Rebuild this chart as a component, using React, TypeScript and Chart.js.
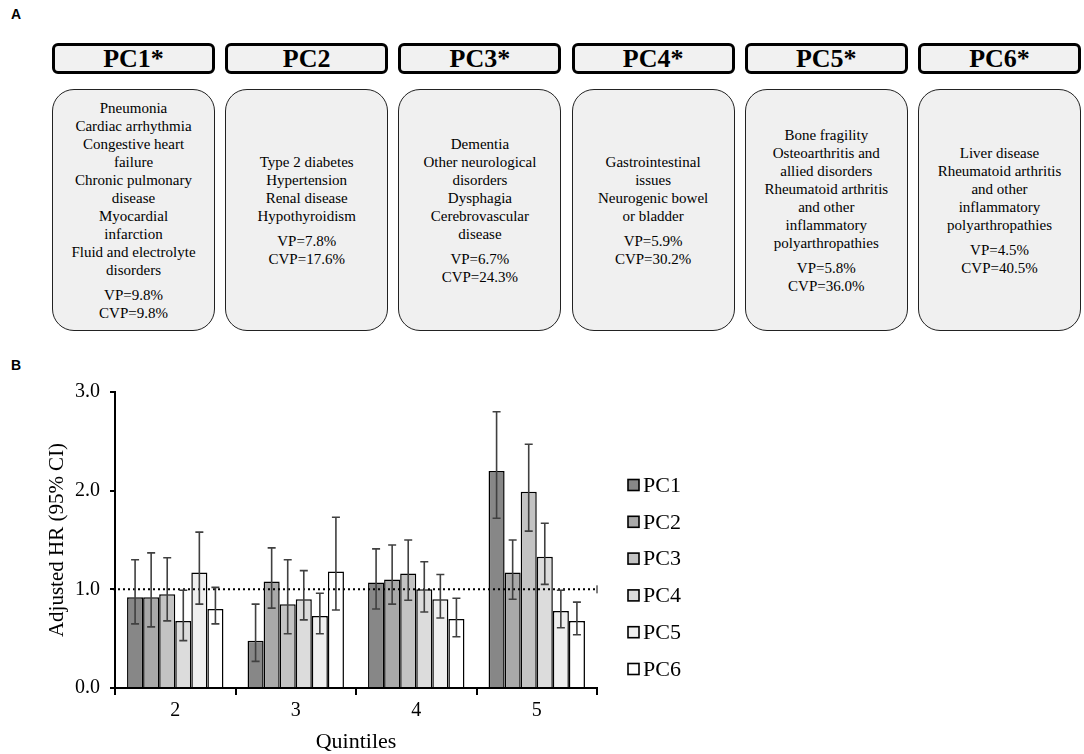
import React, { useEffect, useRef } from "react";
import { Chart, registerables } from "chart.js";

Chart.register(...registerables);

// ---------- Panel A data ----------
const pcHeaders = ["PC1*", "PC2", "PC3*", "PC4*", "PC5*", "PC6*"];
const pcConditions: string[][] = [
  ["Pneumonia", "Cardiac arrhythmia", "Congestive heart", "failure", "Chronic pulmonary", "disease", "Myocardial", "infarction", "Fluid and electrolyte", "disorders"],
  ["Type 2 diabetes", "Hypertension", "Renal disease", "Hypothyroidism"],
  ["Dementia", "Other neurological", "disorders", "Dysphagia", "Cerebrovascular", "disease"],
  ["Gastrointestinal", "issues", "Neurogenic bowel", "or bladder"],
  ["Bone fragility", "Osteoarthritis and", "allied disorders", "Rheumatoid arthritis", "and other", "inflammatory", "polyarthropathies"],
  ["Liver disease", "Rheumatoid arthritis", "and other", "inflammatory", "polyarthropathies"],
];
const vpValues = ["9.8%", "7.8%", "6.7%", "5.9%", "5.8%", "4.5%"];
const cvpValues = ["9.8%", "17.6%", "24.3%", "30.2%", "36.0%", "40.5%"];

// ---------- Panel B data ----------
const quintiles = ["2", "3", "4", "5"];
const seriesNames = ["PC1", "PC2", "PC3", "PC4", "PC5", "PC6"];
const hrPC1 = [0.92, 0.48, 1.07, 2.2];
const hrPC2 = [0.92, 1.08, 1.1, 1.17];
const hrPC3 = [0.95, 0.85, 1.16, 1.99];
const hrPC4 = [0.68, 0.9, 1.0, 1.33];
const hrPC5 = [1.17, 0.73, 0.9, 0.78];
const hrPC6 = [0.8, 1.18, 0.7, 0.68];
const loPC1 = [0.65, 0.27, 0.8, 1.72];
const loPC2 = [0.62, 0.81, 0.85, 0.9];
const loPC3 = [0.68, 0.55, 0.89, 1.59];
const loPC4 = [0.48, 0.69, 0.77, 1.05];
const loPC5 = [0.85, 0.55, 0.71, 0.61];
const loPC6 = [0.65, 0.79, 0.52, 0.54];
const hiPC1 = [1.3, 0.85, 1.41, 2.8];
const hiPC2 = [1.37, 1.42, 1.45, 1.5];
const hiPC3 = [1.32, 1.3, 1.5, 2.47];
const hiPC4 = [0.99, 1.19, 1.28, 1.67];
const hiPC5 = [1.58, 0.96, 1.15, 0.99];
const hiPC6 = [1.02, 1.73, 0.91, 0.87];
const yTickValues = [0, 1, 2, 3];
const referenceHR = 1.0;

const hrSeries = [hrPC1, hrPC2, hrPC3, hrPC4, hrPC5, hrPC6];
const loSeries = [loPC1, loPC2, loPC3, loPC4, loPC5, loPC6];
const hiSeries = [hiPC1, hiPC2, hiPC3, hiPC4, hiPC5, hiPC6];
const barColors = ["#878787", "#a9a9a9", "#c3c3c3", "#dcdcdc", "#efefef", "#ffffff"];

const SERIF = "'Liberation Serif', 'Times New Roman', serif";
const SANS = "'Liberation Sans', Arial, sans-serif";

const errorBarPlugin = {
  id: "errorBars",
  afterDatasetsDraw(chart: any) {
    const { ctx, chartArea } = chart;
    const y = chart.scales.y;
    const yr = y.getPixelForValue(referenceHR);
    ctx.save();
    ctx.strokeStyle = "#000";
    ctx.lineWidth = 2;
    ctx.setLineDash([2, 3]);
    ctx.beginPath();
    ctx.moveTo(chartArea.left - 2, yr);
    ctx.lineTo(chartArea.right, yr);
    ctx.stroke();
    ctx.setLineDash([]);
    ctx.lineWidth = 1;
    ctx.beginPath();
    ctx.moveTo(chartArea.right, yr - 4);
    ctx.lineTo(chartArea.right, yr + 4);
    ctx.stroke();
    ctx.restore();

    ctx.save();
    ctx.strokeStyle = "#404040";
    ctx.lineWidth = 1.6;
    hrSeries.forEach((_, i) => {
      const meta = chart.getDatasetMeta(i);
      meta.data.forEach((bar: any, j: number) => {
        const x = bar.x;
        const yl = y.getPixelForValue(loSeries[i][j]);
        const yh = y.getPixelForValue(hiSeries[i][j]);
        ctx.beginPath();
        ctx.moveTo(x, yl);
        ctx.lineTo(x, yh);
        ctx.moveTo(x - 4, yl);
        ctx.lineTo(x + 4, yl);
        ctx.moveTo(x - 4, yh);
        ctx.lineTo(x + 4, yh);
        ctx.stroke();
      });
    });
    ctx.restore();
  },
};

const legendPlugin = {
  id: "sideLegend",
  afterDraw(chart: any) {
    const { ctx, chartArea } = chart;
    ctx.save();
    chart.data.datasets.forEach((ds: any, i: number) => {
      const cy = chartArea.top + 93 + i * 36.8;
      const sx = chartArea.right + 31;
      ctx.fillStyle = ds.backgroundColor;
      ctx.fillRect(sx, cy - 5.5, 11, 11);
      ctx.strokeStyle = "#000";
      ctx.lineWidth = 1.6;
      ctx.strokeRect(sx, cy - 5.5, 11, 11);
      ctx.fillStyle = "#000";
      ctx.font = `22px ${SERIF}`;
      ctx.textBaseline = "middle";
      ctx.textAlign = "left";
      ctx.fillText(ds.label, sx + 15, cy + 1);
    });
    ctx.restore();
  },
};

function HRChart() {
  const ref = useRef<HTMLCanvasElement | null>(null);
  useEffect(() => {
    if (!ref.current) return;
    const chart = new Chart(ref.current, {
      type: "bar",
      data: {
        labels: quintiles,
        datasets: seriesNames.map((name, i) => ({
          label: name,
          data: hrSeries[i],
          backgroundColor: barColors[i],
          borderColor: "#000",
          borderWidth: 1.5,
          categoryPercentage: 0.8,
          barPercentage: 1.0,
        })),
      },
      options: {
        responsive: false,
        animation: false,
        devicePixelRatio: 1,
        layout: { padding: { left: 0, top: 15, right: 123, bottom: 0 } },
        plugins: { legend: { display: false }, tooltip: { enabled: false } },
        scales: {
          x: {
            afterFit: (s: any) => { s.height = 66; },
            grid: { display: true, drawOnChartArea: false, drawTicks: true, tickLength: 7, color: "#000", lineWidth: 2, offset: true },
            border: { display: true, color: "#000", width: 2 },
            ticks: { color: "#000", font: { family: SERIF, size: 20 }, padding: 4 },
            title: { display: true, text: "Quintiles", color: "#000", font: { family: SERIF, size: 22, lineHeight: 1 }, padding: { top: 0, bottom: 1 } },
          },
          y: {
            min: 0,
            max: 3,
            afterFit: (s: any) => { s.width = 115; },
            afterBuildTicks: (s: any) => { s.ticks = yTickValues.map((v) => ({ value: v })); },
            grid: { display: true, drawOnChartArea: false, drawTicks: true, tickLength: 5, color: "#000", lineWidth: 2 },
            border: { display: true, color: "#000", width: 2 },
            ticks: { color: "#000", font: { family: SERIF, size: 20 }, padding: 10, callback: (v: any) => Number(v).toFixed(1) },
            title: { display: true, text: "Adjusted HR (95% CI)", color: "#000", font: { family: SERIF, size: 21, lineHeight: 1.2 }, padding: { top: 45, bottom: 0 } },
          },
        },
      },
      plugins: [errorBarPlugin, legendPlugin],
    });
    return () => chart.destroy();
  }, []);
  return <canvas ref={ref} width={720} height={384} style={{ position: "absolute", left: 0, top: 370, width: 720, height: 384 }} />;
}

export default function App() {
  return (
    <div style={{ position: "absolute", left: 0, top: 0, width: 1084, height: 754, background: "#fff", overflow: "hidden", fontFamily: SERIF }}>
      <div style={{ position: "absolute", left: 11, top: 6, fontFamily: SANS, fontWeight: "bold", fontSize: 14 }}>A</div>
      <div style={{ position: "absolute", left: 11, top: 357, fontFamily: SANS, fontWeight: "bold", fontSize: 14 }}>B</div>
      {pcHeaders.map((h, i) => {
        const left = 52 + i * 173.2;
        return (
          <React.Fragment key={h}>
            <div style={{ position: "absolute", left, top: 43, width: 163, height: 31, boxSizing: "border-box", border: "3px solid #000", borderRadius: 6, background: "#f1f1f1", display: "flex", alignItems: "center", justifyContent: "center", fontFamily: SERIF, fontWeight: "bold", fontSize: 26, color: "#000" }}>
              {h}
            </div>
            <div style={{ position: "absolute", left, top: 89, width: 163, height: 242, boxSizing: "border-box", border: "1.5px solid #222", borderRadius: 22, background: "#f0f0f0", display: "flex", flexDirection: "column", alignItems: "center", justifyContent: "center", fontFamily: SERIF, fontSize: 15, lineHeight: "18px", color: "#000", textAlign: "center" }}>
              {pcConditions[i].map((line, k) => (
                <div key={k} style={{ whiteSpace: "nowrap" }}>{line}</div>
              ))}
              <div style={{ marginTop: 7, whiteSpace: "nowrap" }}>VP={vpValues[i]}</div>
              <div style={{ whiteSpace: "nowrap" }}>CVP={cvpValues[i]}</div>
            </div>
          </React.Fragment>
        );
      })}
      <HRChart />
    </div>
  );
}
